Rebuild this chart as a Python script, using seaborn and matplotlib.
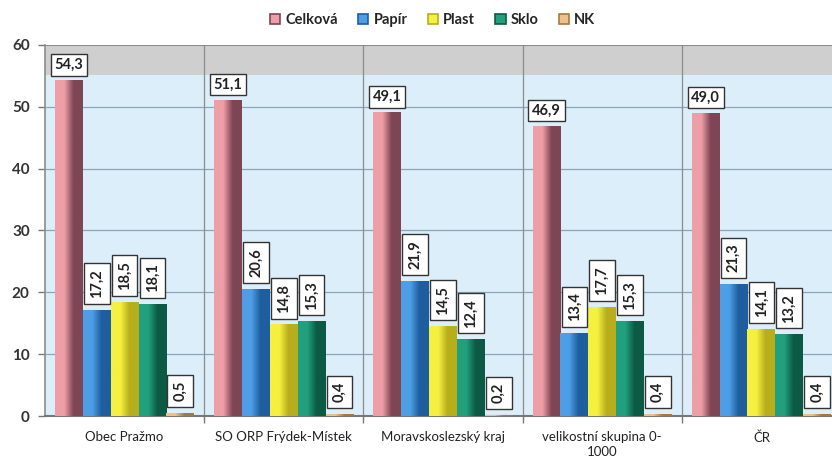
import numpy as np
import pandas as pd
import matplotlib
matplotlib.use("Agg")
import matplotlib.pyplot as plt
import matplotlib.colors as mcolors
from matplotlib.patches import Patch
import seaborn as sns

# ---- data ----
categories = ["Obec Pražmo", "SO ORP Frýdek-Místek", "Moravskoslezský kraj",
              "velikostní skupina 0-\n1000", "ČR"]
series = ["Celková", "Papír", "Plast", "Sklo", "NK"]
celkova = [54.3, 51.1, 49.1, 46.9, 49.0]
papir = [17.2, 20.6, 21.9, 13.4, 21.3]
plast = [18.5, 14.8, 14.5, 17.7, 14.1]
sklo = [18.1, 15.3, 12.4, 15.3, 13.2]
nk = [0.5, 0.4, 0.2, 0.4, 0.4]
yticks = [0, 10, 20, 30, 40, 50, 60]

values = [celkova, papir, plast, sklo, nk]
df = pd.DataFrame({
    "cat": categories * len(series),
    "serie": sum([[s] * len(categories) for s in series], []),
    "val": sum(values, []),
})

light = {"Celková": "#EE9EA6", "Papír": "#4E9EE6", "Plast": "#F6F040",
         "Sklo": "#22A07E", "NK": "#EEC08A"}
dark = {"Celková": "#7E4654", "Papír": "#1E5E9E", "Plast": "#B8AE1C",
        "Sklo": "#0C5A44", "NK": "#A87840"}

sns.set_theme(style="white")
plt.rcParams["font.family"] = ["Lato", "DejaVu Sans"]

fig = plt.figure(figsize=(8.32, 4.61), dpi=100)
ax = fig.add_axes([45 / 832, 45 / 461, 796 / 832, 371 / 461])

sns.barplot(data=df, x="cat", y="val", hue="serie", order=categories,
            hue_order=series, palette=light, width=0.875, gap=0,
            legend=False, ax=ax, saturation=1, zorder=3, linewidth=0)

ax.set_xlim(-0.5, 4.5)
ax.set_ylim(0, 60)

# background: light blue wall with grey top band
ax.set_facecolor("#DCEEFA")
ax.axhspan(55.2, 60, color="#CFCFCF", zorder=0.5, lw=0)
for y in yticks[1:-1]:
    ax.axhline(y, color="#8AA6B8", lw=0.9, zorder=1)
for xb in np.arange(0.5, 4.5, 1.0):
    ax.axvline(xb, color="#8C8C8C", lw=0.9, zorder=1)
ax.axhline(60, color="#8C8C8C", lw=1.5, zorder=1)

# 3D-like shading on bars (gradient clipped to each library bar)
n_cat = len(categories)
grad = np.linspace(0, 1, 64).reshape(1, -1)
for si, s in enumerate(series):
    cmap = mcolors.LinearSegmentedColormap.from_list(
        s, [light[s], light[s], dark[s], dark[s]])
    for ci in range(n_cat):
        p = ax.patches[si * n_cat + ci]
        x0, w, h = p.get_x(), p.get_width(), p.get_height()
        im = ax.imshow(grad, cmap=cmap, extent=(x0, x0 + w, 0, h),
                       aspect="auto", zorder=3.5, interpolation="bilinear")
        im.set_clip_path(p)

ax.set_xlim(-0.5, 4.5)
ax.set_ylim(0, 60)

# value labels
fmt = lambda v: f"{v:.1f}".replace(".", ",")
for si, s in enumerate(series):
    for ci in range(n_cat):
        p = ax.patches[si * n_cat + ci]
        xc = p.get_x() + p.get_width() / 2
        v = values[si][ci]
        if s == "Celková":
            ax.annotate(fmt(v), (xc, v), xytext=(0, 6), textcoords="offset points",
                        ha="center", va="bottom", fontsize=10.5, fontweight="bold",
                        color="#222222", zorder=6,
                        bbox=dict(boxstyle="square,pad=0.25", fc="white",
                                  ec="#333333", lw=1))
        else:
            ax.annotate(fmt(v), (xc, v), xytext=(0, 8.5), textcoords="offset points",
                        ha="center", va="bottom", rotation=90, fontsize=10.5,
                        fontweight="bold", color="#222222", zorder=6,
                        bbox=dict(boxstyle="square,pad=0.4", fc="white",
                                  ec="#333333", lw=1))

# axes styling
ax.set_yticks(yticks)
ax.set_yticklabels([str(t) for t in yticks], fontsize=11, fontweight="bold",
                   color="#333333")
ax.set_xticks(range(n_cat))
ax.set_xticklabels(categories, fontsize=9.5, color="#222222", linespacing=1.25)
ax.tick_params(axis="x", length=0, pad=11)
ax.tick_params(axis="y", length=5, width=1, color="#777777", pad=6, direction="out", left=True)
ax.set_xticks(np.arange(0.5, 4.5, 1.0), minor=True)
ax.tick_params(axis="x", which="minor", length=5, width=1, color="#777777", bottom=True)
ax.set_xlabel("")
ax.set_ylabel("")
for side in ["top", "right"]:
    ax.spines[side].set_visible(False)
ax.spines["left"].set_color("#8C8C8C")
ax.spines["left"].set_linewidth(1.2)
ax.spines["bottom"].set_color("#777777")
ax.spines["bottom"].set_linewidth(1.5)

handles = [Patch(facecolor=light[s], edgecolor=dark[s], lw=1.2) for s in series]
fig.legend(handles, series, loc="upper center", bbox_to_anchor=(0.52, 1.0),
           ncol=5, frameon=False, handlelength=0.7, handleheight=0.7,
           handletextpad=0.35, columnspacing=1.4,
           prop={"weight": "bold", "size": 10.5})

fig.savefig("out.png", dpi=100)
